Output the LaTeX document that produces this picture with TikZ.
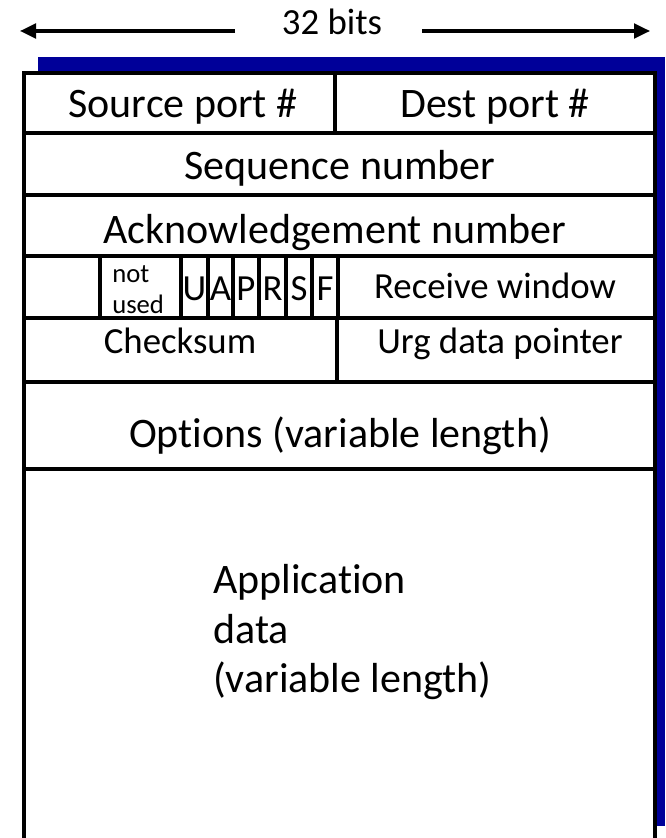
\documentclass[tikz,border=0pt]{standalone}
\usepackage{fontspec}
\setmainfont{Carlito}[Ligatures={NoCommon,NoRequired,NoContextual}]
\usetikzlibrary{arrows.meta}
\definecolor{shadowblue}{RGB}{0,0,153}
\tikzset{
  frame/.style={line width=2.6pt, line cap=rect},
  big/.style={font=\fontsize{31.5}{38}\selectfont, inner sep=0pt, anchor=base},
  mid/.style={font=\fontsize{27.6}{33}\selectfont, inner sep=0pt, anchor=base},
  tiny/.style={font=\fontsize{20}{21}\selectfont, inner sep=0pt, anchor=base west},
  dimarrow/.style={line width=2.4pt, -{Triangle[length=12pt,width=11pt]}}
}
\begin{document}
\begin{tikzpicture}[x=0.75pt,y=-0.75pt]
\useasboundingbox (0,0) rectangle (665,838);
% shadow and box
\fill[shadowblue] (38,57) rectangle (665,826);
\fill[white] (24,73) rectangle (655,838);
\draw[frame] (24,840) -- (24,73) -- (655,73) -- (655,840);
% row lines
\foreach \yy in {133,195,256,318,382,469}
  \draw[frame] (24,\yy) -- (655,\yy);
% column dividers
\draw[frame] (335,73) -- (335,133);
\foreach \xx in {100,181,208,233,259,286,312,338}
  \draw[frame] (\xx,256) -- (\xx,318);
\draw[frame] (337,318) -- (337,382);
% width arrow
\node[mid] (bits) at (332,35) {32 bits};
\coordinate (la) at (235,31);
\coordinate (lt) at (20,31);
\coordinate (ra) at (422,31);
\coordinate (rt) at (650,31);
\draw[dimarrow] (la) -- (lt);
\draw[dimarrow] (ra) -- (rt);
% texts
\node[big] (src) at (183,118) {Source port \#};
\node[big] (dst) at (495,118) {Dest port \#};
\node[big] (seq) at (340,180) {Sequence number};
\node[big] (ack) at (335,243) {Acknowledgement number};
\node[tiny] (nu1) at (112,282) {not};
\node[tiny] (nu2) at (112,313) {used};
\node[mid] (fu) at (194.5,300) {U};
\node[mid] (fa) at (220.5,300) {A};
\node[mid] (fp) at (246,300) {P};
\node[mid] (fr) at (272.5,300) {R};
\node[mid] (fs) at (299,300) {S};
\node[mid] (ff) at (325,300) {F};
\node[mid] (rw) at (495,298) {Receive window};
\node[mid] (cs) at (180,353) {Checksum};
\node[mid] (urg) at (500,353) {Urg data pointer};
\node[big] (opt) at (340,447) {Options (variable length)};
\node[big, anchor=base west] (app1) at (213,593) {Application};
\node[big, anchor=base west] (app2) at (213,643) {data};
\node[big, anchor=base west] (app3) at (213,692) {(variable length)};
\end{tikzpicture}
\end{document}
